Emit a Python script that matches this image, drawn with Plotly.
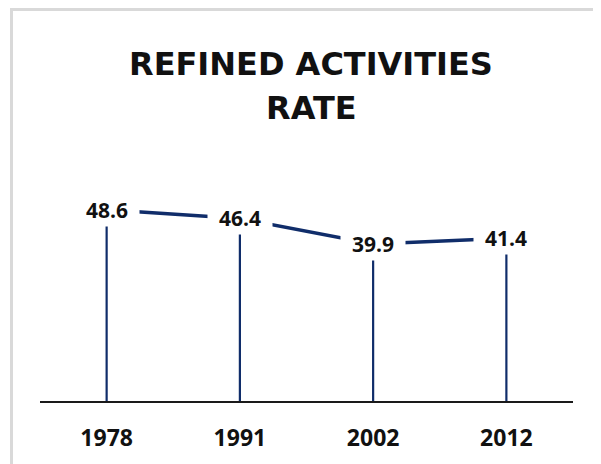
import plotly.graph_objects as go

years = ["1978", "1991", "2002", "2012"]
rates = [48.6, 46.4, 39.9, 41.4]
title_lines = ["REFINED ACTIVITIES", "RATE"]

NAVY = "#102d6a"
OFF = 8  # page body margin of the browser
W, H = 601 - OFF, 464 - OFF
L, R, T, B = 40 - OFF, 28, 165 - OFF, 63
pw, ph = W - L - R, H - T - B

def px(x):  # reference pixel -> paper
    return (x - OFF - L) / pw

def py(y):
    return (H - B - (y - OFF)) / ph

fig = go.Figure()
fig.add_trace(go.Scatter(
    x=years, y=rates, mode="lines",
    line=dict(color=NAVY, width=3.5),
    error_y=dict(type="data", symmetric=False, array=[0] * len(rates),
                 arrayminus=rates, width=0, thickness=2.2, color=NAVY),
    hoverinfo="skip", showlegend=False, cliponaxis=False,
))

annotations = []
for i, v in enumerate(rates):
    annotations.append(dict(
        x=i, y=v, xref="x", yref="y", text=f"{v:.1f}", showarrow=False,
        font=dict(family="Open Sans", size=21, color="#111111", weight="bold"),
        bgcolor="white", width=62, height=30, xanchor="center", yanchor="middle",
    ))
for t, yc in zip(title_lines, [64, 108]):
    annotations.append(dict(
        x=px(311), y=py(yc), xref="paper", yref="paper", text=t, showarrow=False,
        font=dict(family="DejaVu Sans", size=32, color="#111111", weight="bold"),
        xanchor="center", yanchor="middle",
    ))

fig.update_layout(
    width=W, height=H,
    margin=dict(l=L, r=R, t=T, b=B),
    paper_bgcolor="white", plot_bgcolor="white",
    annotations=annotations,
    shapes=[dict(type="rect", xref="paper", yref="paper",
                 x0=px(11.5), x1=px(600), y0=py(9.5), y1=py(480),
                 line=dict(color="#d9d9d9", width=3), layer="below")],
    xaxis=dict(type="category", range=[-0.5, 3.5], showgrid=False, zeroline=False,
               showline=True, linecolor="#1a1a1a", linewidth=1.5, ticks="",
               ticklabelstandoff=16,
               tickfont=dict(family="Open Sans", size=23, color="#111111", weight="bold"),
               fixedrange=True),
    yaxis=dict(range=[0, 60], visible=False, fixedrange=True),
)

fig.write_html("out.html")
